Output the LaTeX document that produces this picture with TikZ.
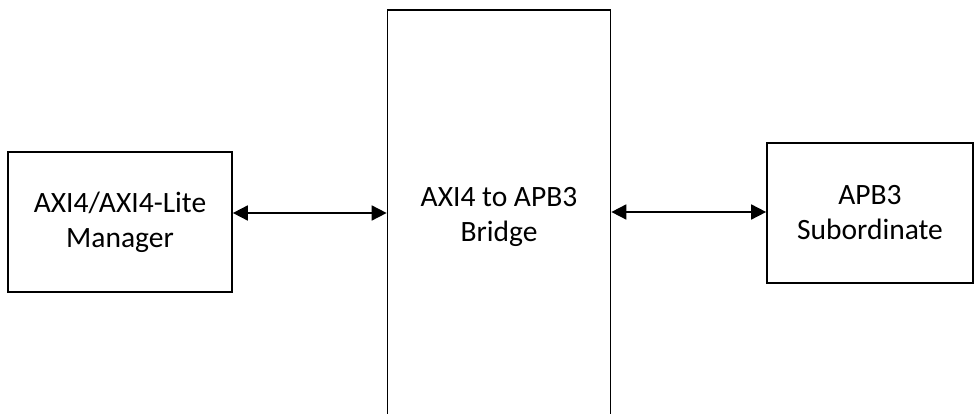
\documentclass[tikz,border=0pt]{standalone}
\usepackage{fontspec}
\setmainfont{Carlito}
\usetikzlibrary{arrows.meta}
\begin{document}
\begin{tikzpicture}[x=1pt,y=-1pt,
  blk/.style={draw=black,line width=1.7pt,fill=white,inner sep=0pt,align=center,
    font=\fontsize{29.5}{35}\selectfont},
  link/.style={line width=1.7pt,{Triangle[length=15pt,width=15pt]}-{Triangle[length=15pt,width=15pt]}}]
\useasboundingbox (0,0) rectangle (980,414);
\clip (0,0) rectangle (980,414);
\node[blk,minimum width=224pt,minimum height=140pt] (mgr) at (120,222) {AXI4/AXI4-Lite\\Manager};
\node[blk,minimum width=223pt,minimum height=414pt] (brg) at (499,217) {AXI4 to APB3\\Bridge};
\node[blk,minimum width=206pt,minimum height=140pt] (sub) at (870,213) {APB3\\Subordinate};
\draw[link] (mgr.east |- 0,213) -- (brg.west |- 0,213);
\draw[link] (brg.east |- 0,212) -- (sub.west |- 0,212);
\end{tikzpicture}
\end{document}
